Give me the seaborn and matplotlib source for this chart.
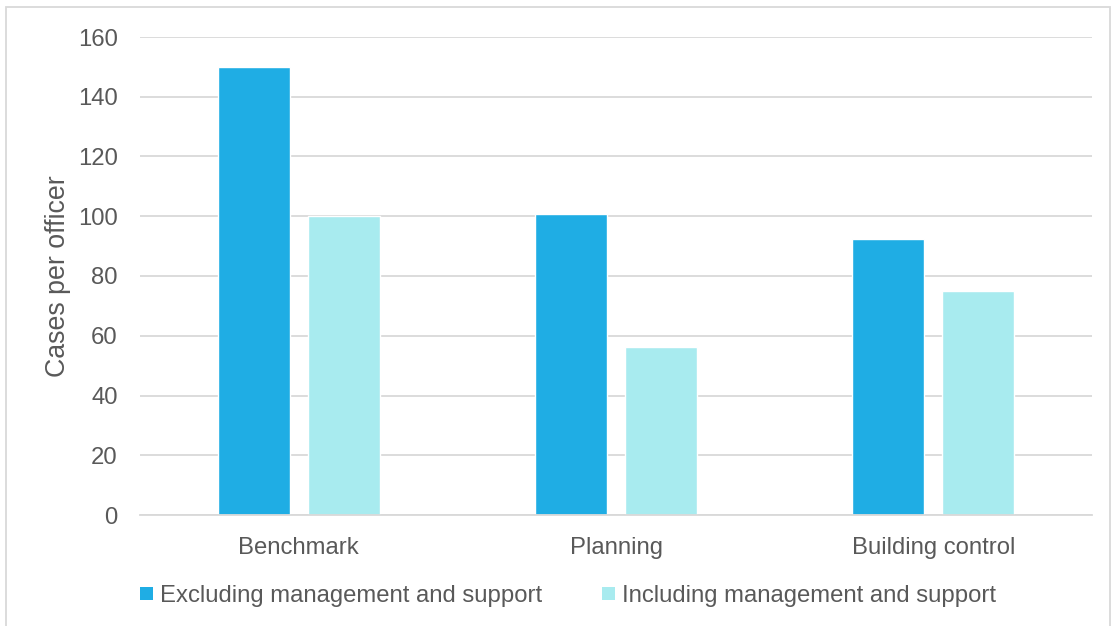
import matplotlib
matplotlib.use("Agg")
import matplotlib.pyplot as plt
import seaborn as sns
import pandas as pd
from matplotlib.patches import Patch, Rectangle

categories = ["Benchmark", "Planning", "Building control"]
series_names = ["Excluding management and support", "Including management and support"]
excluding = [150, 100.7, 92.4]
including = [100, 56.3, 75]
yticks = [0, 20, 40, 60, 80, 100, 120, 140, 160]
colors = ["#1FADE4", "#A8EBEF"]

df = pd.DataFrame({
    "category": categories * 2,
    "series": [series_names[0]] * 3 + [series_names[1]] * 3,
    "value": excluding + including,
})

sns.set_theme(style="white")
plt.rcParams["font.family"] = ["Liberation Sans", "DejaVu Sans"]
text_color = "#595959"

W, H = 1117, 626
fig = plt.figure(figsize=(W / 100, H / 100), dpi=100)
ax = fig.add_axes([140 / W, (H - 515) / H, (1092 - 140) / W, (515 - 37) / H])

sns.barplot(data=df, x="category", y="value", hue="series", order=categories,
            hue_order=series_names, palette=colors, width=0.568, gap=0.2,
            saturation=1, ax=ax, legend=False)

ax.set_xlim(-0.5, 2.5)
ax.set_ylim(0, 160)
ax.set_yticks(yticks)
ax.yaxis.grid(True, color="#D9D9D9", linewidth=1.3)
ax.set_axisbelow(True)
for s in ["top", "right", "left"]:
    ax.spines[s].set_visible(False)
ax.spines["bottom"].set_color("#D9D9D9")
ax.spines["bottom"].set_linewidth(1.3)
ax.tick_params(axis="both", length=0, labelsize=17.2, colors=text_color)
ax.tick_params(axis="y", pad=16)
ax.tick_params(axis="x", pad=16)
ax.set_xlabel("")
ax.set_ylabel("Cases per officer", fontsize=19.3, color=text_color, labelpad=5)

handles = [Patch(facecolor=c, edgecolor="none") for c in colors]
leg = fig.legend(handles, series_names, loc="center left", bbox_to_anchor=(119 / W, 1 - 596 / H),
                 ncol=2, frameon=False, fontsize=17.2, handlelength=0.52, handleheight=0.52,
                 handletextpad=0.3, columnspacing=2.52, labelcolor=text_color)

# outer border
fig.patches.append(Rectangle((6 / W, -0.1), (1110 - 6) / W, 1 - 7 / H + 0.1,
                             transform=fig.transFigure, fill=False,
                             edgecolor="#D9D9D9", linewidth=1.3))

fig.savefig("out.png", dpi=100)
